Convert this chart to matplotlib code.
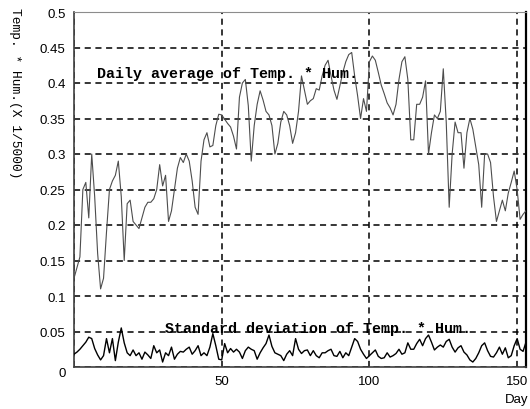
import matplotlib
matplotlib.use("Agg")
import matplotlib.pyplot as plt
import numpy as np

# daily average of Temp.*Hum. (x 1/5000), day 0..153
daily_avg = [
    0.125, 0.14, 0.155, 0.25, 0.26, 0.21, 0.30, 0.24, 0.16, 0.11,
    0.125, 0.19, 0.25, 0.262, 0.27, 0.29, 0.24, 0.15, 0.23, 0.235,
    0.205, 0.20, 0.195, 0.21, 0.225, 0.232, 0.232, 0.237, 0.25, 0.285,
    0.255, 0.27, 0.205, 0.22, 0.25, 0.28, 0.295, 0.288, 0.30, 0.29,
    0.262, 0.225, 0.215, 0.29, 0.32, 0.33, 0.31, 0.312, 0.34, 0.356,
    0.355, 0.349, 0.343, 0.338, 0.325, 0.307, 0.38, 0.40, 0.405, 0.368,
    0.29, 0.34, 0.37, 0.389, 0.376, 0.36, 0.355, 0.34, 0.30, 0.315,
    0.345, 0.36, 0.355, 0.34, 0.315, 0.33, 0.36, 0.41, 0.39, 0.37,
    0.375, 0.378, 0.392, 0.39, 0.41, 0.425, 0.432, 0.41, 0.39, 0.377,
    0.396, 0.415, 0.43, 0.44, 0.443, 0.41, 0.382, 0.35, 0.378, 0.36,
    0.43, 0.438, 0.432, 0.415, 0.397, 0.385, 0.372, 0.365, 0.355, 0.37,
    0.405, 0.43, 0.437, 0.405, 0.32, 0.32, 0.37, 0.37, 0.38, 0.403,
    0.30, 0.33, 0.355, 0.35, 0.36, 0.42, 0.345, 0.225, 0.30, 0.345,
    0.33, 0.33, 0.28, 0.33, 0.35, 0.335, 0.31, 0.285, 0.225, 0.30,
    0.30, 0.288, 0.24, 0.205, 0.22, 0.235, 0.22, 0.245, 0.26, 0.276,
    0.25, 0.208, 0.215, 0.22,
]

# standard deviation of Temp.*Hum., day 0..153
daily_std = [
    0.018, 0.021, 0.025, 0.03, 0.035, 0.042, 0.04, 0.026, 0.017, 0.01,
    0.016, 0.04, 0.02, 0.04, 0.009, 0.035, 0.055, 0.034, 0.02, 0.016,
    0.024, 0.016, 0.02, 0.011, 0.021, 0.017, 0.012, 0.03, 0.02, 0.024,
    0.007, 0.02, 0.016, 0.028, 0.011, 0.018, 0.022, 0.021, 0.025, 0.028,
    0.018, 0.023, 0.03, 0.016, 0.02, 0.016, 0.028, 0.047, 0.03, 0.011,
    0.01, 0.033, 0.02, 0.026, 0.021, 0.025, 0.021, 0.012, 0.023, 0.028,
    0.025, 0.023, 0.011, 0.02, 0.027, 0.033, 0.045, 0.029, 0.02, 0.018,
    0.016, 0.009, 0.018, 0.023, 0.016, 0.04, 0.025, 0.019, 0.023, 0.024,
    0.016, 0.023, 0.016, 0.013, 0.02, 0.02, 0.023, 0.025, 0.016, 0.015,
    0.022, 0.013, 0.02, 0.016, 0.028, 0.04, 0.036, 0.025, 0.018, 0.012,
    0.016, 0.02, 0.024, 0.015, 0.012, 0.013, 0.02, 0.014, 0.016, 0.019,
    0.025, 0.018, 0.02, 0.034, 0.025, 0.025, 0.033, 0.039, 0.03, 0.04,
    0.045, 0.035, 0.024, 0.028, 0.031, 0.028, 0.036, 0.039, 0.028, 0.021,
    0.027, 0.03, 0.021, 0.017, 0.01, 0.007, 0.012, 0.02, 0.03, 0.034,
    0.023, 0.015, 0.014, 0.02, 0.028, 0.018, 0.027, 0.013, 0.016, 0.03,
    0.04, 0.025, 0.022, 0.035,
]

days = np.arange(len(daily_avg))
y_ticks = [0, 0.05, 0.1, 0.15, 0.2, 0.25, 0.3, 0.35, 0.4, 0.45, 0.5]
y_labels = ["0", "0.05", "0.1", "0.15", "0.2", "0.25", "0.3", "0.35", "0.4", "0.45", "0.5"]
x_ticks = [0, 50, 100, 150]
x_labels = ["", "50", "100", "150"]   # the single "0" in the corner comes from the y axis

fig = plt.figure(figsize=(5.3, 4.1), dpi=100)
ax = fig.add_axes([74 / 530, 42 / 410, 452 / 530, 355 / 410])

ax.plot(days, daily_avg, color="0.3", lw=0.8, zorder=3)
ax.plot(days, daily_std, color="black", lw=1.0, zorder=3)

ax.set_xlim(0, 153)
ax.set_ylim(0, 0.5)
ax.set_xticks(x_ticks)
ax.set_xticklabels(x_labels)
ax.set_yticks(y_ticks)
ax.set_yticklabels(y_labels)
ax.tick_params(length=0, labelsize=9.5, pad=6)
for lab in ax.get_xticklabels() + ax.get_yticklabels():
    lab.set_family("Liberation Sans")
# nudge the corner "0" down a little, as in the original
ax.get_yticklabels()[0].set_verticalalignment("top")

ax.grid(True, color="black", lw=1.1, linestyle=(0, (4, 3)))
ax.set_axisbelow(True)
for side in ("left", "bottom"):
    ax.spines[side].set_color("0.25")
    ax.spines[side].set_linewidth(1.2)
ax.spines["top"].set_color("0.55")
ax.spines["top"].set_linewidth(0.8)
ax.spines["right"].set_color("black")
ax.spines["right"].set_linewidth(1.6)

mono = dict(family="Liberation Mono", fontweight="bold", fontsize=10.8, color="black")
ax.text(7.8, 0.408, "Daily average of Temp. * Hum.", va="baseline", zorder=4, **mono)
ax.text(30.8, 0.049, "Standard deviation of Temp. * Hum.", va="baseline", zorder=4, **mono)

fig.text(15 / 530, 1 - 8 / 410, "Temp. * Hum.(X 1/5000)", rotation=270,
         ha="center", va="top", family="Liberation Mono", fontsize=9.3)
fig.text(517 / 530, 1 - 400 / 410, "Day", ha="center", va="center",
         family="Liberation Sans", fontsize=9.5)

fig.savefig("out.png", dpi=100)
